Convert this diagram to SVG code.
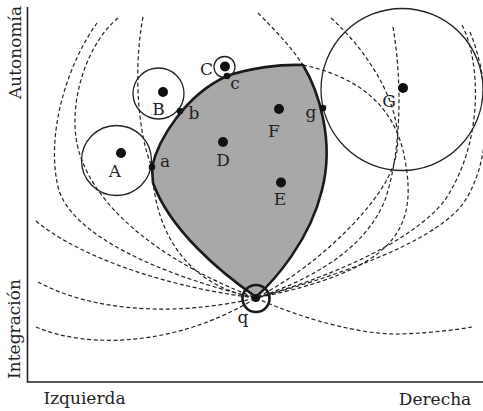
<svg xmlns="http://www.w3.org/2000/svg" width="483" height="411" viewBox="0 0 483 411">
<style>
text{font-family:"DejaVu Serif","Liberation Serif",serif;font-size:17px;fill:#222;text-anchor:middle}
.d{fill:none;stroke:#222;stroke-width:1.2;stroke-dasharray:4 2.6}
.c{fill:none;stroke:#222;stroke-width:1.3}
.dot{fill:#111}
</style>
<rect width="483" height="411" fill="#fff"/>
<g id="axes">
<path d="M27.5,7 V382 H483" fill="none" stroke="#222" stroke-width="1.6"/>
<text transform="translate(21,52.5) rotate(-90)">Autonomía</text>
<text transform="translate(20,329) rotate(-90)">Integración</text>
<text x="84.5" y="404">Izquierda</text>
<text x="435" y="405">Derecha</text>
</g>
<g id="region">
<path d="M256,297 C220,272 170,230 153,183 L152,167 C158,140 185,95 227,76 C250,68 280,64 303,65 C318,90 335,140 322,190 C310,240 275,280 256,297 Z" fill="#a8a8a8" stroke="#1a1a1a" stroke-width="2.6" stroke-linejoin="round"/>
</g>
<g id="connectors">
<path class="d" d="M97,23 C70,60 45,130 58,187 C70,235 160,275 256,298"/>
<path class="d" d="M118,18 C85,45 65,110 80,155 C100,215 170,265 256,298"/>
<path class="d" d="M143,17 C133,70 138,135 152,167 C154,230 185,285 256,298"/>
<path class="d" d="M36,221 C70,250 150,285 256,298"/>
<path class="d" d="M38,282 C90,310 170,318 256,298"/>
<path class="d" d="M36,327 C90,350 180,345 256,298"/>
<path class="d" d="M258,13 C275,30 292,48 303,65"/>
<path class="d" d="M303,65 C350,75 395,100 405,160 C418,230 395,270 256,298"/>
<path class="d" d="M331,18 C372,55 408,115 395,160 C385,200 320,265 256,298"/>
<path class="d" d="M393,27 C402,80 402,150 385,200 C365,250 310,280 256,298"/>
<path class="d" d="M462,25 C480,60 485,140 445,200 C410,245 320,280 256,298"/>
<path class="d" d="M470,32 C490,80 495,160 462,205 C430,245 330,278 256,298"/>
<path class="d" d="M256,298 C300,318 360,335 400,334 C430,333 455,330 472,327"/>
</g>
<g id="node-A"><circle class="c" cx="116.5" cy="160.5" r="35"/><circle class="dot" cx="121" cy="153" r="5"/><text x="115" y="177">A</text></g>
<g id="node-B"><circle class="c" cx="158.5" cy="93.5" r="25.5"/><circle class="dot" cx="163" cy="92" r="5"/><text x="158.5" y="115">B</text></g>
<g id="node-C"><circle class="c" cx="224.5" cy="67" r="10.5"/><circle class="dot" cx="225" cy="66.5" r="5"/><text x="206.5" y="75">C</text></g>
<g id="node-D"><circle class="dot" cx="223" cy="142" r="5"/><text x="223" y="166">D</text></g>
<g id="node-E"><circle class="dot" cx="281" cy="182.5" r="5"/><text x="280" y="205">E</text></g>
<g id="node-F"><circle class="dot" cx="279" cy="109" r="5"/><text x="274" y="137">F</text></g>
<g id="node-G"><circle class="c" cx="402" cy="89.5" r="81"/><circle class="dot" cx="403" cy="88" r="5"/><text x="389" y="107">G</text></g>
<g id="node-a"><circle class="dot" cx="152" cy="167" r="3.3"/><text x="165" y="167">a</text></g>
<g id="node-b"><circle class="dot" cx="180" cy="111" r="3.3"/><text x="194" y="119">b</text></g>
<g id="node-c"><circle class="dot" cx="227" cy="76" r="3.3"/><text x="235" y="89">c</text></g>
<g id="node-g"><circle class="dot" cx="323" cy="108" r="3.3"/><text x="311" y="118">g</text></g>
<g id="node-q"><circle cx="256" cy="298.5" r="13.5" fill="none" stroke="#1a1a1a" stroke-width="2.6"/><circle class="dot" cx="256" cy="298" r="4"/><text x="243" y="323">q</text></g>
</svg>
